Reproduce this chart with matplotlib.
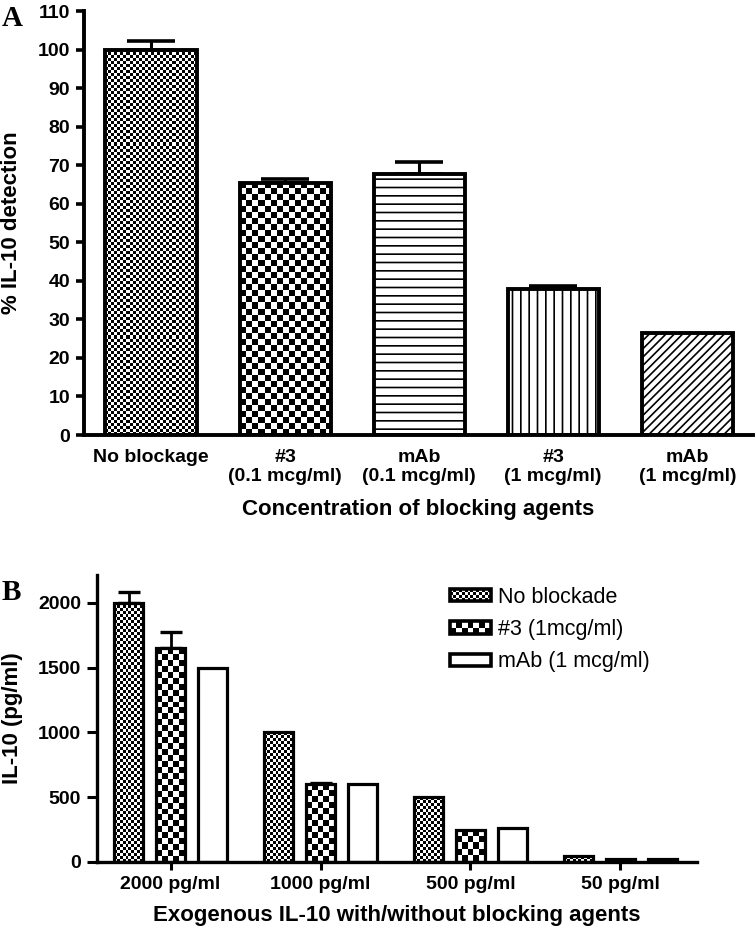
import numpy as np
import matplotlib
matplotlib.use('Agg')
import matplotlib.pyplot as plt
from matplotlib.patches import Rectangle
from matplotlib.collections import PatchCollection
from matplotlib.legend_handler import HandlerBase

plt.rcParams['font.family'] = ['Liberation Sans', 'DejaVu Sans']
plt.rcParams['hatch.linewidth'] = 1.2

# ---------------- Panel A data ----------------
a_categories = ['No blockage', '#3\n(0.1 mcg/ml)', 'mAb\n(0.1 mcg/ml)',
                '#3\n(1 mcg/ml)', 'mAb\n(1 mcg/ml)']
a_values = [100.0, 65.5, 67.7, 38.0, 26.5]
a_errors = [2.2, 0.9, 3.2, 0.6, 0.0]
a_yticks = [0, 10, 20, 30, 40, 50, 60, 70, 80, 90, 100, 110]
a_ylabel = '% IL-10 detection'
a_xlabel = 'Concentration of blocking agents'

# ---------------- Panel B data ----------------
b_groups = ['2000 pg/ml', '1000 pg/ml', '500 pg/ml', '50 pg/ml']
b_series = ['No blockade', '#3 (1mcg/ml)', 'mAb (1 mcg/ml)']
b_no_blockade = [2000, 1000, 500, 45]
b_no_blockade_err = [85, 0, 0, 0]
b_num3 = [1650, 600, 250, 25]
b_num3_err = [125, 10, 0, 0]
b_mab = [1500, 600, 260, 20]
b_mab_err = [0, 0, 0, 0]
b_yticks = [0, 500, 1000, 1500, 2000]
b_ylabel = 'IL-10 (pg/ml)'
b_xlabel = 'Exogenous IL-10 with/without blocking agents'

W, H = 756, 932
fig = plt.figure(figsize=(W / 100, H / 100), dpi=100)
fig.patch.set_facecolor('white')

FINE = 3.0    # checker cell, px
COARSE = 6.0


def checker_fill(ax, rect, cell_px):
    x0, y0 = rect.get_x(), rect.get_y()
    w, h = rect.get_width(), rect.get_height()
    p0 = ax.transData.transform((x0, y0))
    p1 = ax.transData.transform((x0 + w, y0 + h))
    ncols = max(1, int(round(abs(p1[0] - p0[0]) / cell_px)))
    nrows = max(1, int(round(abs(p1[1] - p0[1]) / cell_px)))
    arr = np.indices((nrows, ncols)).sum(axis=0) % 2
    im = ax.imshow(arr, extent=(x0, x0 + w, y0, y0 + h), origin='lower',
                   cmap='gray_r', vmin=0, vmax=1, interpolation='nearest',
                   aspect='auto', zorder=2.5)
    im.set_clip_path(rect)


def draw_errors(ax, xs, vals, errs, capsize, lw):
    xs = np.asarray(xs, float)
    vals = np.asarray(vals, float)
    errs = np.asarray(errs, float)
    m = errs > 0
    if m.any():
        ax.errorbar(xs[m], vals[m], yerr=[np.zeros(m.sum()), errs[m]], fmt='none',
                    ecolor='black', elinewidth=lw, capsize=capsize, capthick=lw + 0.4,
                    zorder=1.5)


# ================= Panel A =================
axA = fig.add_axes([84 / W, 1 - 435 / H, (753 - 84) / W, (435 - 11) / H])
xA = np.arange(len(a_categories))
axA.set_xlim(-0.50, 4.49)
axA.set_ylim(0, 110)
wA = 0.68
hatchesA = [None, None, '--', '||', '////']
checkA = [FINE, COARSE, None, None, None]
for x, v, ht, c in zip(xA, a_values, hatchesA, checkA):
    b = axA.bar([x], [v], wA, color='white', edgecolor='black', linewidth=0,
                hatch=ht, zorder=2)[0]
    if c:
        checker_fill(axA, b, c)
axA.bar(xA, a_values, wA, facecolor='none', edgecolor='black', linewidth=2.8, zorder=3)
draw_errors(axA, xA, a_values, a_errors, capsize=17, lw=2.2)
axA.set_xlim(-0.50, 4.49)
axA.set_ylim(0, 110)

for s in ['top', 'right']:
    axA.spines[s].set_visible(False)
for s in ['left', 'bottom']:
    axA.spines[s].set_linewidth(2.8)
axA.set_yticks(a_yticks)
axA.set_xticks(xA)
axA.set_xticklabels(a_categories, fontsize=14, fontweight='bold', linespacing=1.2)
axA.tick_params(axis='y', length=5.5, width=2.6, pad=4.5, labelsize=14)
axA.tick_params(axis='x', length=0, pad=10)
for t in axA.get_yticklabels():
    t.set_fontweight('bold')
axA.set_ylabel(a_ylabel, fontsize=16, fontweight='bold')
axA.yaxis.set_label_coords((22 - 84) / 669, 0.5)
axA.set_xlabel(a_xlabel, fontsize=16, fontweight='bold')
axA.xaxis.set_label_coords(0.5, (435 - 509) / 424)
axA.xaxis.label.set_va('center')

# ================= Panel B =================
axB = fig.add_axes([97 / W, 1 - 862 / H, (697 - 97) / W, (862 - 575) / H])
xB = np.arange(len(b_groups))
axB.set_xlim(-0.49, 3.51)
axB.set_ylim(0, 2215)
wB = 0.193
off = 0.277
series_vals = [b_no_blockade, b_num3, b_mab]
series_errs = [b_no_blockade_err, b_num3_err, b_mab_err]
series_check = [FINE, COARSE, None]
for k, (vals, errs, chk) in enumerate(zip(series_vals, series_errs, series_check)):
    xs = xB + (k - 1) * off
    bb = axB.bar(xs, vals, wB, color='white', edgecolor='none', zorder=2)
    if chk:
        for b in bb:
            checker_fill(axB, b, chk)
    axB.bar(xs, vals, wB, facecolor='none', edgecolor='black', linewidth=2.3, zorder=3)
    draw_errors(axB, xs, vals, errs, capsize=8, lw=2.0)
axB.set_xlim(-0.49, 3.51)
axB.set_ylim(0, 2215)

for s in ['top', 'right']:
    axB.spines[s].set_visible(False)
for s in ['left', 'bottom']:
    axB.spines[s].set_linewidth(2.4)
axB.set_yticks(b_yticks)
axB.set_xticks(xB)
axB.set_xticklabels(b_groups, fontsize=14, fontweight='bold')
axB.tick_params(axis='y', length=7.5, width=2.2, pad=4, labelsize=14)
axB.tick_params(axis='x', length=6, width=2.2, pad=4)
for t in axB.get_yticklabels():
    t.set_fontweight('bold')
axB.set_ylabel(b_ylabel, fontsize=16, fontweight='bold')
axB.yaxis.set_label_coords((23 - 97) / 600, 0.5)
axB.set_xlabel(b_xlabel, fontsize=16, fontweight='bold')
axB.xaxis.set_label_coords(0.5, (862 - 915) / 287)
axB.xaxis.label.set_va('center')


class CheckerHandler(HandlerBase):
    def __init__(self, cell_px=None, **kw):
        super().__init__(**kw)
        self.cell_px = cell_px

    def create_artists(self, legend, orig_handle, xdescent, ydescent,
                       width, height, fontsize, trans):
        x0, y0 = -xdescent, -ydescent
        arts = [Rectangle((x0, y0), width, height, facecolor='white',
                          edgecolor='none', transform=trans)]
        if self.cell_px:
            cell = self.cell_px * 72.0 / fig.dpi
            nx = max(1, int(round(width / cell)))
            ny = max(1, int(round(height / cell)))
            cw, ch = width / nx, height / ny
            rects = [Rectangle((x0 + i * cw, y0 + j * ch), cw, ch)
                     for i in range(nx) for j in range(ny) if (i + j) % 2 == 0]
            arts.append(PatchCollection(rects, facecolor='black',
                                        edgecolor='none', transform=trans))
        arts.append(Rectangle((x0, y0), width, height, facecolor='none',
                              edgecolor='black', linewidth=2.6, transform=trans))
        return arts


handles = [Rectangle((0, 0), 1, 1) for _ in b_series]
hmap = {h: CheckerHandler(c) for h, c in zip(handles, series_check)}
axB.legend(handles, b_series, handler_map=hmap, loc='upper left',
           bbox_to_anchor=((450 - 97) / 600, (862 - 587) / 287),
           frameon=False, fontsize=15.5, handlelength=1.9, handleheight=0.5,
           handletextpad=0.35, labelspacing=0.52, borderpad=0, borderaxespad=0)

# Panel letters
fig.text(2 / W, 1 - 26 / H, 'A', family='Liberation Serif', fontweight='bold',
         fontsize=21, va='baseline', ha='left')
fig.text(2 / W, 1 - 600 / H, 'B', family='Liberation Serif', fontweight='bold',
         fontsize=21, va='baseline', ha='left')

fig.savefig('out.png', dpi=100, facecolor='white')
